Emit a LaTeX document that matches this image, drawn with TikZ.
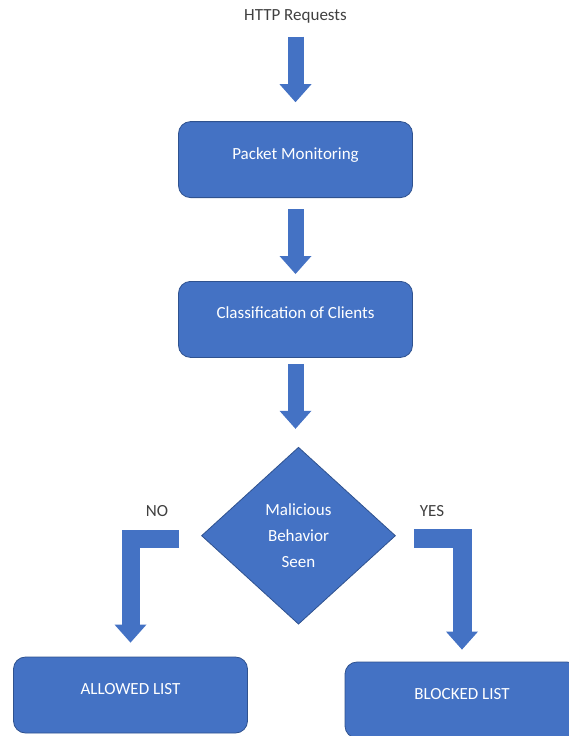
\documentclass[tikz,border=0pt]{standalone}
\usepackage{fontspec}
\setmainfont{Carlito}
\usepackage{tikz}
\usetikzlibrary{arrows.meta, positioning, shapes.geometric}
\usepackage{xcolor}
\definecolor{boxblue}{HTML}{4472C4}
\definecolor{boxline}{HTML}{2F528F}
\definecolor{labelgray}{HTML}{404040}

\begin{document}
\begin{tikzpicture}[
      x=1pt, y=1pt,
      box/.style={
        rectangle, draw=boxline, line width=0.8pt, fill=boxblue,
        rounded corners=12pt, minimum width=234pt, minimum height=76pt,
        text=white, text height=11pt, text depth=12pt,
        font=\fontsize{17}{26}\selectfont
      },
      decision/.style={
        diamond, draw=boxline, line width=0.8pt, fill=boxblue,
        minimum width=194pt, minimum height=177pt, inner sep=0pt,
        text=white, align=center, font=\fontsize{17}{26}\selectfont
      },
      note/.style={
        inner sep=0pt, text=labelgray, text height=11pt, text depth=4pt,
        font=\fontsize{17}{20}\selectfont
      },
      bigarrow/.style={
        draw=boxblue, line width=16pt, line join=miter,
        -{Triangle[width=32pt, length=18pt, line width=0pt]}
      }
    ]
    \useasboundingbox (0,0) rectangle (568,-736);

    \node[note] (http) at (295.5,-17) {HTTP Requests};
    \node[box, below=96.5pt of http] (pm)  {Packet Monitoring};
    \node[box, below=83pt of pm]     (cls) {Classification of Clients};
    \node[decision, below=89pt of cls, xshift=3pt] (dm) {Malicious\\Behavior\\Seen};
    \node[box] (allowed) at (130.5,-695) {ALLOWED LIST};
    \node[box] (blocked) at (462,-700)   {BLOCKED LIST};

    \node[note] (no)  at (157,-513) {NO};
    \node[note] (yes) at (432,-513) {YES};

    \foreach \a/\b/\s/\e in {http/pm/12/19, pm/cls/11/7, cls/dm/6/18}
      \draw[bigarrow, shorten <=\s pt, shorten >=\e pt] (\a.south) -- (\a.south |- \b.north);

    \draw[bigarrow, line width=18pt] ([xshift=-22pt, yshift=-3pt]dm.west) -| ([yshift=14pt]allowed.north);
    \draw[bigarrow, line width=19pt] ([xshift=18pt, yshift=-3pt]dm.east) -| ([yshift=12pt]blocked.north);
  \end{tikzpicture}
\end{document}
